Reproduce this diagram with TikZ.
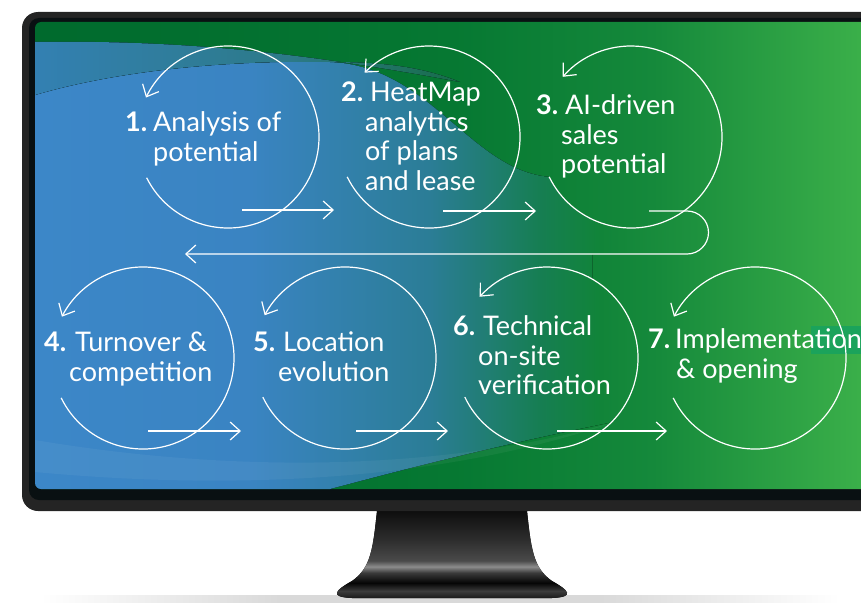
\documentclass[tikz,border=0pt]{standalone}
\usepackage{fontspec}
\setmainfont{Lato}
\usetikzlibrary{arrows.meta,calc}
\definecolor{gA}{HTML}{006A2D}
\definecolor{gB}{HTML}{067832}
\definecolor{gC}{HTML}{15893B}
\definecolor{gD}{HTML}{3CB14A}
\definecolor{bA}{HTML}{3C87C8}
\definecolor{bB}{HTML}{3A84C2}
\definecolor{bC}{HTML}{2B7D96}
\definecolor{bD}{HTML}{167E52}
\definecolor{bE}{HTML}{118439}
\definecolor{bF}{HTML}{1F933F}
\definecolor{tA}{HTML}{3380B2}
\definecolor{tB}{HTML}{2C7A88}
\definecolor{tC}{HTML}{176C48}
\definecolor{frameGrey}{HTML}{242424}
\definecolor{frameBlack}{HTML}{091012}
\definecolor{hlGreen}{HTML}{1BA35B}
\definecolor{sA}{HTML}{0E0E0E}
\definecolor{sB}{HTML}{2E2E2E}
\definecolor{sC}{HTML}{4A4A4A}
\definecolor{sD}{HTML}{8C8C8C}
\definecolor{sE}{HTML}{3A3A3A}
\definecolor{sF}{HTML}{050505}
\definecolor{sG}{HTML}{3C3C3C}
\definecolor{sH}{HTML}{1A1A1A}
\definecolor{grA}{HTML}{FFFFFF}
\definecolor{grB}{HTML}{D9D9D9}
% base spans x = 35 .. 870
\pgfdeclarehorizontalshading{greenbase}{100bp}{color(0bp)=(gA); color(25bp)=(gA); color(50bp)=(gB); color(62bp)=(gC); color(75bp)=(gD); color(100bp)=(gD)}
% blue body spans x = 35 .. 708.5 : x -> 25 + 50*(x-35)/673.5
\pgfdeclarehorizontalshading{bluebody}{100bp}{color(0bp)=(bA); color(25bp)=(bA); color(41bp)=(bB); color(54.3bp)=(bC); color(62.5bp)=(bD); color(66.9bp)=(bE); color(75bp)=(bF); color(100bp)=(bF)}
\pgfdeclarehorizontalshading{tealband}{100bp}{color(0bp)=(tA); color(25bp)=(tA); color(55bp)=(tB); color(75bp)=(tC); color(100bp)=(tC)}
\pgfdeclareverticalshading{standshade}{100bp}{color(0bp)=(sH); color(25bp)=(sH); color(29bp)=(sG); color(33.7bp)=(sF); color(39.5bp)=(sE); color(43bp)=(sD); color(46.5bp)=(sC); color(58bp)=(sB); color(75bp)=(sA); color(100bp)=(sA)}
\pgfdeclarehorizontalshading{groundshade}{100bp}{color(0bp)=(grA); color(25bp)=(grA); color(40bp)=(grB); color(60bp)=(grB); color(75bp)=(grA); color(100bp)=(grA)}
\tikzset{
  wline/.style={draw=white, line width=1.2pt},
  tipped/.style={wline, -{Straight Barb[length=10pt,width=18pt]}},
  steptext/.style={text=white, font=\fontsize{27}{29.5}\selectfont, align=left, inner sep=0pt, anchor=north west},
}
\newcommand\stepnum[2]{\makebox[#1pt][l]{\textbf{#2}}}
\begin{document}
\begin{tikzpicture}[x=1pt,y=-1pt]
\useasboundingbox (0,0) rectangle (861,602);
\clip (0,0) rectangle (861,602);
% ground line
\fill[shading=groundshade] (40,595) rectangle (840,602);
% stand
\fill[shading=standshade] (377,511) .. controls (373,548) and (371,568) .. (352,581)
  .. controls (336,590) and (328,597) .. (352,598) -- (552,598)
  .. controls (576,597) and (568,590) .. (552,581)
  .. controls (533,568) and (531,548) .. (527,511) -- cycle;
% monitor frame
\fill[frameGrey, rounded corners=16pt] (22,12) rectangle (900,511);
\fill[frameBlack, rounded corners=10pt] (29,18) rectangle (900,500);
% screen
\begin{scope}
\clip[rounded corners=6pt] (35,22) rectangle (900,489);
\fill[shading=greenbase] (35,22) rectangle (870,489);
\fill[shading=bluebody] (35,95) .. controls (120,70) and (230,60) .. (330,62)
  .. controls (430,66) and (470,170) .. (549.2,176.9)
  arc[start angle=154, end angle=54.4, radius=91]
  -- (687,211) arc[start angle=-90, end angle=90, radius=21.5]
  -- (592.5,254) -- (592.5,279.2)
  arc[start angle=-60, end angle=45, radius=91]
  .. controls (500,445) and (420,465) .. (330,489) -- (35,489) -- cycle;
\fill[shading=tealband] (35,42) .. controls (180,40) and (300,52) .. (460,82)
  .. controls (420,66) and (380,62) .. (330,62)
  .. controls (230,60) and (120,70) .. (35,95) -- cycle;
\fill[white, opacity=0.05] (35,440) .. controls (200,468) and (420,478) .. (615,422)
  .. controls (450,478) and (250,492) .. (35,472) -- cycle;
\fill[hlGreen] (811,326) rectangle (870,354);
\end{scope}
% circle centres
\coordinate (c1) at (228,137);
\coordinate (c2) at (429,137);
\coordinate (c3) at (631,137);
\coordinate (c4) at (143,358);
\coordinate (c5) at (345,358);
\coordinate (c6) at (547,358);
\coordinate (c7) at (755,358);
% circular arrows
\draw[tipped] ($(c1)+(153.4:91)$) arc[start angle=153.4, end angle=-154.3, radius=91];
\draw[tipped] ($(c2)+(154:91)$) arc[start angle=154, end angle=-135, radius=91];
\draw[tipped] ($(c3)+(154:91)$) arc[start angle=154, end angle=-138.6, radius=91];
\draw[tipped] ($(c4)+(154:91)$) arc[start angle=154, end angle=-153, radius=91];
\draw[tipped] ($(c5)+(154.5:91)$) arc[start angle=154.5, end angle=-152, radius=91];
\draw[tipped] ($(c6)+(154.6:91)$) arc[start angle=154.6, end angle=-137.7, radius=91];
\draw[tipped] ($(c7)+(154:91)$) arc[start angle=154, end angle=-153, radius=91];
% texts
\node[steptext] (t1) at (125,111.1) {\stepnum{28}{1.}Analysis of\strut\\\hspace*{28pt}potential\strut};
\node[steptext] (t2) at (341,81.1) {\stepnum{29}{2.}HeatMap\strut\\\hspace*{24pt}analytics\strut\\\hspace*{24pt}of plans\strut\\\hspace*{24pt}and lease\strut};
\node[steptext] (t3) at (536,94.1) {\stepnum{29}{3.}AI-driven\strut\\\hspace*{25pt}sales\strut\\\hspace*{25pt}potential\strut};
\node[steptext] (t4) at (44,331.1) {\stepnum{31}{4.}Turnover \&\strut\\\hspace*{25pt}competition\strut};
\node[steptext] (t5) at (253,331.1) {\stepnum{30}{5.}Location\strut\\\hspace*{25pt}evolution\strut};
\node[steptext] (t6) at (453,315.1) {\stepnum{30}{6.}Technical\strut\\\hspace*{25pt}on-site\strut\\\hspace*{25pt}verification\strut};
\node[steptext] (t7) at (648,328.1) {\stepnum{27}{7.}Implementation\strut\\\hspace*{28pt}\& opening\strut};
% connectors
\coordinate (a12s) at (242,210); \coordinate (a12e) at (334,210);
\coordinate (a23s) at (443,211); \coordinate (a23e) at (536,211);
\coordinate (a45s) at (148,431); \coordinate (a45e) at (241,431);
\coordinate (a56s) at (356,431); \coordinate (a56e) at (448,431);
\coordinate (a67s) at (557,431); \coordinate (a67e) at (667,431);
\coordinate (r3s) at (649,211); \coordinate (rturn) at (687,211); \coordinate (r4e) at (185,254);
\draw[tipped] (a12s) -- (a12e);
\draw[tipped] (a23s) -- (a23e);
\draw[tipped] (a45s) -- (a45e);
\draw[tipped] (a56s) -- (a56e);
\draw[tipped] (a67s) -- (a67e);
\draw[tipped] (r3s) -- (rturn) arc[start angle=-90, end angle=90, radius=21.5] -- (r4e);
\end{tikzpicture}
\end{document}
